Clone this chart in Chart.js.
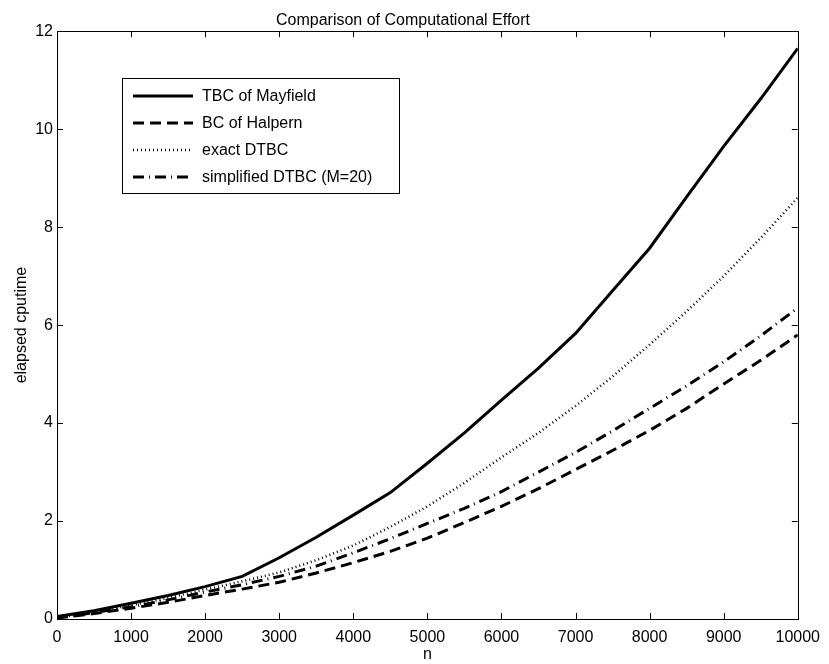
<!DOCTYPE html>
<html>
<head>
<meta charset="utf-8">
<script src="https://cdn.jsdelivr.net/npm/chart.js@4/dist/chart.umd.min.js"></script>
<style>
    html, body { margin: 0; padding: 0; background: #fff; }
    #wrap { width: 829px; height: 664px; }
</style>
</head>
<body>
<div id="wrap"><canvas id="effortChart" width="829" height="664"></canvas></div>
<script>
const nValues = [0, 500, 1000, 1500, 2000, 2500, 3000, 3500, 4000, 4500, 5000,
                 5500, 6000, 6500, 7000, 7500, 8000, 8500, 9000, 9500, 10000];
const tbcMayfield = [0.05, 0.17, 0.32, 0.48, 0.66, 0.87, 1.25, 1.67, 2.12, 2.58, 3.18,
                     3.8, 4.47, 5.12, 5.83, 6.7, 7.57, 8.62, 9.65, 10.62, 11.65];
const bcHalpern = [0.02, 0.11, 0.22, 0.34, 0.48, 0.61, 0.75, 0.94, 1.15, 1.38, 1.65,
                   1.97, 2.3, 2.66, 3.05, 3.44, 3.85, 4.3, 4.8, 5.28, 5.8];
const exactDtbc = [0.03, 0.14, 0.28, 0.43, 0.6, 0.77, 0.95, 1.2, 1.5, 1.88, 2.3,
                   2.78, 3.3, 3.8, 4.35, 4.95, 5.6, 6.28, 7.0, 7.78, 8.6];
const simplifiedDtbc = [0.03, 0.13, 0.25, 0.39, 0.55, 0.7, 0.87, 1.08, 1.35, 1.64, 1.95,
                        2.26, 2.6, 3.0, 3.4, 3.84, 4.3, 4.76, 5.25, 5.78, 6.35];
const seriesLabels = ['TBC of Mayfield', 'BC of Halpern', 'exact DTBC', 'simplified DTBC (M=20)'];
const xTicks = [0, 1000, 2000, 3000, 4000, 5000, 6000, 7000, 8000, 9000, 10000];
const yTicks = [0, 2, 4, 6, 8, 10, 12];

const FONT = "'Liberation Sans', Arial, Helvetica, sans-serif";
const dashes = [[], [11, 6], [1, 3], [11, 5, 1, 5]];
const widths = [3, 3, 2.5, 3];

function toPoints(ys) {
    return nValues.map((n, i) => ({ x: n, y: ys[i] }));
}

// MATLAB-like frame: box, inward ticks on all sides, legend inside the axes
const matlabFrame = {
    id: 'matlabFrame',
    afterDatasetsDraw(chart) {
        const { ctx, chartArea: a, scales: { x, y } } = chart;
        ctx.save();
        ctx.strokeStyle = '#000';
        ctx.lineWidth = 1;
        ctx.setLineDash([]);
        ctx.beginPath();
        xTicks.forEach(v => {
            const px = Math.round(x.getPixelForValue(v)) + 0.5;
            ctx.moveTo(px, a.bottom); ctx.lineTo(px, a.bottom - 6);
            ctx.moveTo(px, a.top); ctx.lineTo(px, a.top + 6);
        });
        yTicks.forEach(v => {
            const py = Math.round(y.getPixelForValue(v)) + 0.5;
            ctx.moveTo(a.left, py); ctx.lineTo(a.left + 6, py);
            ctx.moveTo(a.right, py); ctx.lineTo(a.right - 6, py);
        });
        ctx.stroke();
        ctx.strokeRect(Math.round(a.left) + 0.5, Math.round(a.top) + 0.5,
                       Math.round(a.right - a.left), Math.round(a.bottom - a.top));

        // legend
        const box = { l: 122, t: 78, r: 399, b: 193 };
        ctx.fillStyle = '#fff';
        ctx.fillRect(box.l, box.t, box.r - box.l, box.b - box.t);
        ctx.strokeRect(box.l + 0.5, box.t + 0.5, box.r - box.l, box.b - box.t);
        const rows = [96, 123, 150, 177];
        chart.data.datasets.forEach((ds, i) => {
            ctx.beginPath();
            ctx.lineWidth = ds.borderWidth;
            ctx.lineCap = 'butt';
            ctx.setLineDash(ds.borderDash || []);
            ctx.moveTo(133, rows[i]);
            ctx.lineTo(193, rows[i]);
            ctx.stroke();
            ctx.setLineDash([]);
            ctx.fillStyle = '#000';
            ctx.font = '16px ' + FONT;
            ctx.textBaseline = 'middle';
            ctx.textAlign = 'left';
            ctx.fillText(ds.label, 202, rows[i] + 1);
        });
        ctx.restore();
    }
};

const ctx = document.getElementById('effortChart').getContext('2d');
const allSeries = [tbcMayfield, bcHalpern, exactDtbc, simplifiedDtbc];

new Chart(ctx, {
    type: 'line',
    data: {
        datasets: allSeries.map((ys, i) => ({
            label: seriesLabels[i],
            data: toPoints(ys),
            borderColor: '#000',
            backgroundColor: '#000',
            borderWidth: widths[i],
            borderDash: dashes[i],
            pointRadius: 0,
            tension: 0,
            fill: false
        }))
    },
    options: {
        responsive: false,
        animation: false,
        events: [],
        layout: { padding: { left: 0, right: 23, top: 0, bottom: 0 } },
        scales: {
            x: {
                type: 'linear',
                min: 0,
                max: 10000,
                grid: { display: false, drawTicks: false },
                border: { display: false },
                afterFit(scale) { scale.height = 45; },
                afterBuildTicks(scale) { scale.ticks = xTicks.map(v => ({ value: v })); },
                ticks: {
                    color: '#000',
                    padding: 9,
                    maxRotation: 0,
                    autoSkip: false,
                    font: { family: FONT, size: 16 },
                    callback: v => String(v)
                },
                title: {
                    display: true,
                    text: 'n',
                    color: '#000',
                    font: { family: FONT, size: 16 },
                    padding: { top: 0, bottom: 0 }
                }
            },
            y: {
                min: 0,
                max: 12,
                grid: { display: false, drawTicks: false },
                border: { display: false },
                afterFit(scale) { scale.width = 57; },
                afterBuildTicks(scale) { scale.ticks = yTicks.map(v => ({ value: v })); },
                ticks: {
                    color: '#000',
                    padding: 4,
                    font: { family: FONT, size: 16 }
                },
                title: {
                    display: true,
                    text: 'elapsed cputime',
                    color: '#000',
                    font: { family: FONT, size: 16 },
                    padding: { top: 12, bottom: 0 }
                }
            }
        },
        plugins: {
            legend: { display: false },
            tooltip: { enabled: false },
            title: {
                display: true,
                text: 'Comparison of Computational Effort',
                color: '#000',
                font: { family: FONT, size: 16, weight: 'normal' },
                padding: { top: 11, bottom: 1 }
            }
        }
    },
    plugins: [matlabFrame]
});
</script>
</body>
</html>
